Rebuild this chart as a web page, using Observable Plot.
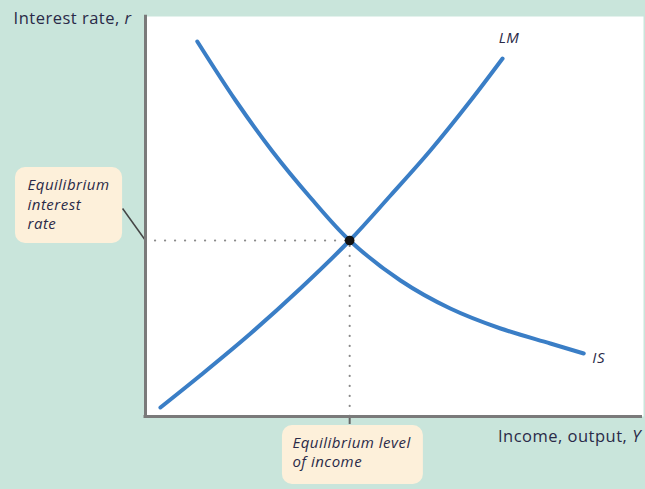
<!DOCTYPE html>
<html>
<head>
<meta charset="utf-8">
<script src="https://cdn.jsdelivr.net/npm/d3@7"></script>
<script src="https://cdn.jsdelivr.net/npm/@observablehq/plot@0.6"></script>
<style>
  html, body { margin: 0; padding: 0; background: #c9e5db; }
  #chart svg { display: block; }
</style>
</head>
<body>
<div id="chart"></div>
<script>
// IS curve (income Y, interest rate r) in arbitrary units
const isY = [10.4, 18.1, 25.5, 33.1, 41.0, 51.2, 61.2, 71.3, 81.3, 88.0];
const isR = [93.75, 79.0, 66.25, 54.75, 44.0, 34.0, 27.0, 22.0, 18.25, 15.75];
// LM curve
const lmY = [3.0, 11.0, 21.1, 31.1, 41.0, 49.2, 57.2, 65.3, 71.7];
const lmR = [2.25, 10.25, 20.75, 32.0, 44.0, 55.25, 66.5, 79.0, 89.5];
// equilibrium
const eqY = [41.0];
const eqR = [44.0];
// labels
const curveNames = ["LM", "IS"];
const axisTitles = ["Interest rate, r", "Income, output, Y"];
const boxTexts = ["Equilibrium\ninterest\nrate", "Equilibrium level\nof income"];

const isData = isY.map((y, i) => ({Y: y, r: isR[i]}));
const lmData = lmY.map((y, i) => ({Y: y, r: lmR[i]}));
const eq = {Y: eqY[0], r: eqR[0]};

const blue = "#3a7ec6";
const ink = "#2a2a48";
const grey = "#7a7a7a";
const cream = "#fdf0da";
const font = "'Open Sans', sans-serif";

const plot = Plot.plot({
  width: 645,
  height: 489,
  marginLeft: 145,
  marginRight: 2,
  marginTop: 16,
  marginBottom: 73,
  x: {domain: [0, 100], axis: null},
  y: {domain: [0, 100], axis: null},
  style: {background: "#c9e5db", fontFamily: font, overflow: "visible"},
  marks: [
    Plot.frame({fill: "white", stroke: "none"}),
    // boxes
    Plot.rect([0], {x1: -26.1, x2: -4.6, y1: 43.25, y2: 62.25, fill: cream, rx: 10, clip: false}),
    Plot.rect([0], {x1: 27.5, x2: 55.8, y1: -17, y2: -2.25, fill: cream, rx: 10, clip: false}),
    // leader line
    Plot.link([0], {x1: -4.6, y1: 52, x2: 0, y2: eq.r, stroke: "#444", strokeWidth: 1.5, clip: false}),
    // dotted guides
    Plot.ruleY([eq], {y: "r", x1: 0, x2: "Y", stroke: "#8a8a8a", strokeWidth: 2.2, strokeLinecap: "round", strokeDasharray: "0.1,9.9"}),
    Plot.ruleX([eq], {x: "Y", y1: 0, y2: "r", stroke: "#8a8a8a", strokeWidth: 2.2, strokeLinecap: "round", strokeDasharray: "0.1,9.9"}),
    Plot.ruleX([eq], {x: "Y", y1: -2, y2: 0, stroke: "#666", strokeWidth: 2, clip: false}),
    // axes
    Plot.ruleX([0], {stroke: grey, strokeWidth: 3, y1: -0.5, y2: 100.3}),
    Plot.ruleY([0], {stroke: grey, strokeWidth: 3, x1: -0.3, x2: 99.8}),
    // curves
    Plot.line(lmData, {x: "Y", y: "r", stroke: blue, strokeWidth: 4, curve: "catmull-rom", strokeLinecap: "round"}),
    Plot.line(isData, {x: "Y", y: "r", stroke: blue, strokeWidth: 4, curve: "catmull-rom", strokeLinecap: "round"}),
    Plot.dot([eq], {x: "Y", y: "r", r: 4.8, fill: "#111", stroke: "none"}),
    // curve labels
    Plot.text([curveNames[0]], {x: 73.0, y: 94.5, text: d => d, fill: ink, fontSize: 15, fontStyle: "italic"}),
    Plot.text([curveNames[1]], {x: 91.0, y: 14.5, text: d => d, fill: ink, fontSize: 15, fontStyle: "italic"}),
    // axis titles
    Plot.text([axisTitles[0]], {x: -26.5, y: 99.5, text: d => d, textAnchor: "start", fill: ink, fontSize: 16.5, clip: false}),
    Plot.text([axisTitles[1]], {x: 99.5, y: -5, text: d => d, textAnchor: "end", fill: ink, fontSize: 16.5, clip: false}),
    // box texts
    Plot.text([boxTexts[0]], {x: -23.7, y: 60.0, text: d => d, textAnchor: "start", lineAnchor: "top", lineHeight: 1.3, fill: ink, fontSize: 15, fontStyle: "italic", clip: false}),
    Plot.text([boxTexts[1]], {x: 29.5, y: -4.4, text: d => d, textAnchor: "start", lineAnchor: "top", lineHeight: 1.27, fill: ink, fontSize: 15, fontStyle: "italic", clip: false})
  ]
});

// letter spacing + italic variable symbols in axis titles
plot.querySelectorAll("text").forEach(t => {
  t.setAttribute("letter-spacing", "0.5");
  const s = t.textContent;
  if (s === axisTitles[0] || s === axisTitles[1]) {
    const head = s.slice(0, -1), tail = s.slice(-1);
    t.textContent = "";
    const a = document.createElementNS("http://www.w3.org/2000/svg", "tspan");
    a.textContent = head;
    const b = document.createElementNS("http://www.w3.org/2000/svg", "tspan");
    b.textContent = tail;
    b.setAttribute("font-style", "italic");
    t.appendChild(a); t.appendChild(b);
  }
});

document.getElementById("chart").appendChild(plot);
</script>
</body>
</html>
